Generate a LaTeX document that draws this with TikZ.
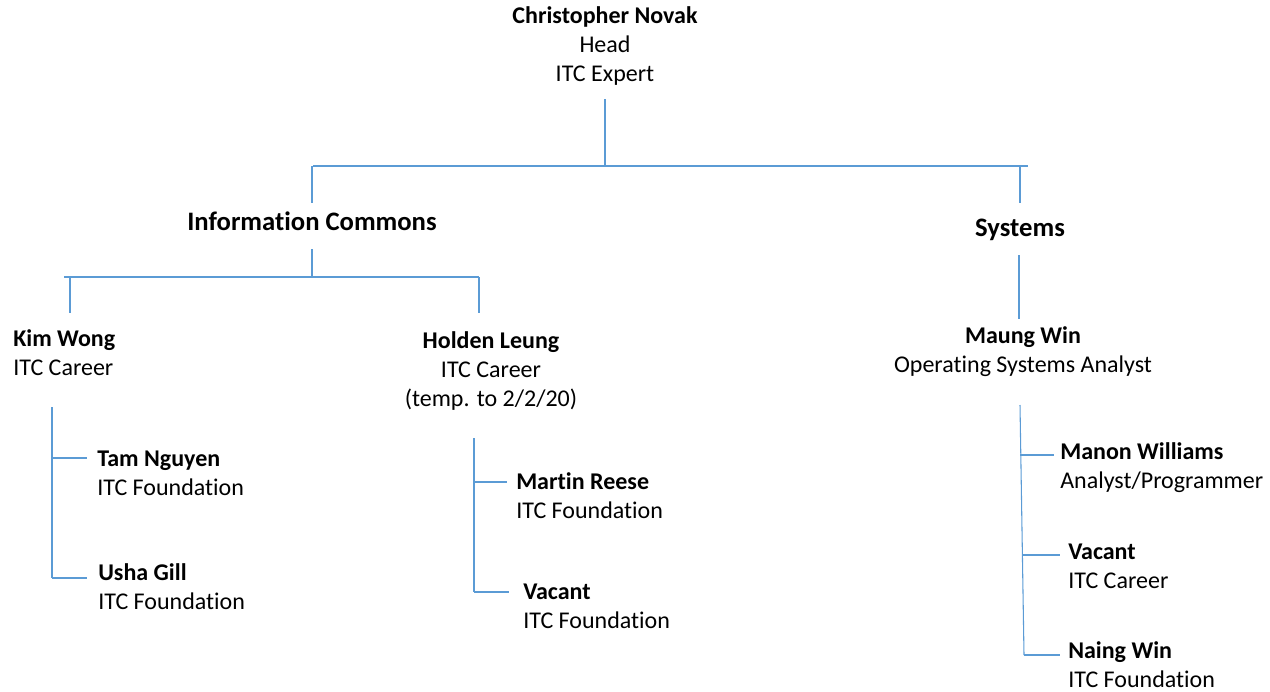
\documentclass[tikz,border=0pt]{standalone}
\usepackage{fontspec}
\setmainfont[Ligatures=NoCommon]{Carlito}
\usetikzlibrary{positioning}
\definecolor{orgblue}{HTML}{5B9BD5}

\begin{document}
\begin{tikzpicture}[x=0.75pt, y=-0.75pt,
    orgline/.style={orgblue, line width=0.8pt},
    chief/.style={align=center, inner sep=0pt, font=\fontsize{18}{21.75}\selectfont},
    unit/.style={inner sep=0pt, font=\bfseries\fontsize{20}{24}\selectfont},
    staff/.style={align=left, anchor=west, inner sep=0pt, font=\fontsize{18}{21.75}\selectfont}]
    \useasboundingbox (0,0) rectangle (1270,692);

    % Head
    \node[chief] (head) at (605,46) {\textbf{Christopher Novak}\\Head\\ITC Expert};

    % Units
    \node[unit] (ic) at (312,221) {Information Commons};
    \node[unit] (sys) at (1020,230) {Systems};

    % Second level
    \node[staff] (kim) at (13,353) {\textbf{Kim Wong}\\ITC Career};
    \node[chief] (holden) at (491,371) {\textbf{Holden Leung}\\ITC Career\\(temp. to 2/2/20)};
    \node[chief] (maung) at (1023,352) {\textbf{Maung Win}\\Operating Systems Analyst};

    % Third level
    \node[staff] (tam) at (97,473) {\textbf{Tam Nguyen}\\ITC Foundation};
    \node[staff] (usha) at (98,587) {\textbf{Usha Gill}\\ITC Foundation};
    \node[staff] (martin) at (516,496) {\textbf{Martin Reese}\\ITC Foundation};
    \node[staff] (vacanta) at (523,606) {\textbf{Vacant}\\ITC Foundation};
    \node[staff] (manon) at (1060,468) {\textbf{Manon Williams}\\Analyst/Programmer};
    \node[staff] (vacantb) at (1068,566) {\textbf{Vacant}\\ITC Career};
    \node[staff] (naing) at (1068,665) {\textbf{Naing Win}\\ITC Foundation};

    % Junctions
    \coordinate (hs) at (605,166);
    \coordinate (ics) at (312,277);

    % Head to units
    \draw[orgline] (head.south |- 0,99) -- (hs);
    \draw[orgline] (313,166) -- (1028,166);
    \draw[orgline] (ic.north |- hs) -- (ic.north |- 0,203);
    \draw[orgline] (1020,166) -- (1020,203);

    % Information Commons
    \draw[orgline] (ic.south |- 0,249) -- (ics);
    \draw[orgline] (64,277) -- (479,277);
    \draw[orgline] (70,277) -- (70,313);
    \draw[orgline] (479,277) -- (479,313);

    % Systems
    \draw[orgline] (1019,255) -- (1019,319);

    % Kim Wong team
    \draw[orgline] (52,407) -- (52,578);
    \draw[orgline] (52,458) -- (87,458);
    \draw[orgline] (52,578) -- (87,578);

    % Holden Leung team
    \draw[orgline] (474,438) -- (474,592);
    \draw[orgline] (474,482) -- (507,482);
    \draw[orgline] (474,592) -- (509,592);

    % Maung Win team
    \draw[orgline] (1020,405) -- (1024,655);
    \draw[orgline] (1020,455) -- (1054,455);
    \draw[orgline] (1023,555) -- (1060,555);
    \draw[orgline] (1024,655) -- (1060,655);
\end{tikzpicture}
\end{document}
